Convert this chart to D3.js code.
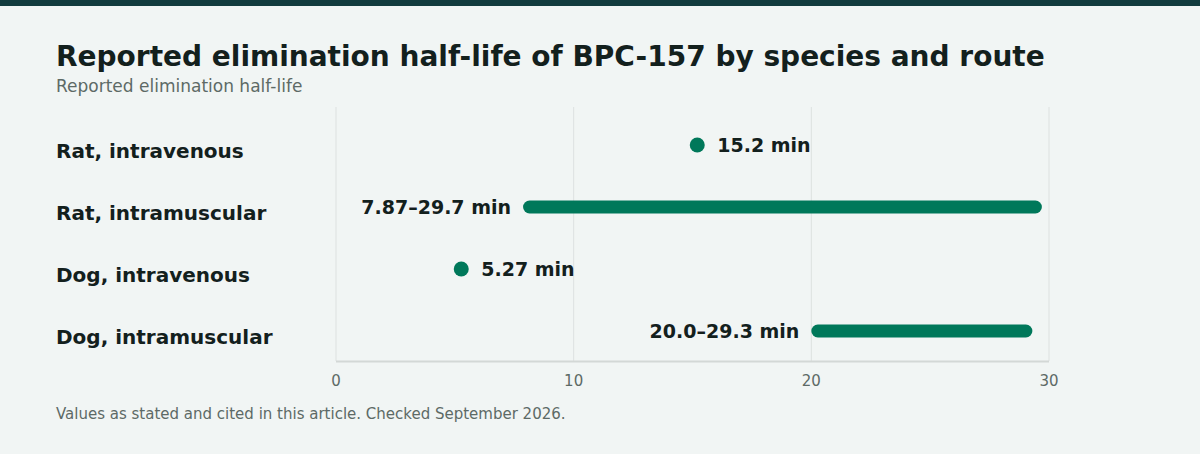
<!DOCTYPE html>
<html>
<head>
<meta charset="utf-8">
<script src="https://cdn.jsdelivr.net/npm/d3@7"></script>
<style>
  body { margin: 0; background: #f1f5f4; }
  svg { display: block; font-family: "DejaVu Sans", sans-serif; }
</style>
</head>
<body>
<svg id="chart" width="1200" height="454"></svg>
<script>
const categories = ['Rat, intravenous', 'Rat, intramuscular', 'Dog, intravenous', 'Dog, intramuscular']
const lowValues = [15.2, 7.87, 5.27, 20.0]
const highValues = [15.2, 29.7, 5.27, 29.3]
const valueLabels = ['15.2 min', '7.87–29.7 min', '5.27 min', '20.0–29.3 min']
const xTicks = [0, 10, 20, 30]

const svg = d3.select('#chart')
const green = '#00785a'

svg.append('rect').attr('width', 1200).attr('height', 454).attr('fill', '#f1f5f4')
svg.append('rect').attr('width', 1200).attr('height', 6).attr('fill', '#123c3e')

svg.append('text')
  .attr('x', 56).attr('y', 66)
  .attr('font-size', 28).attr('font-weight', 'bold').attr('fill', '#13201d')
  .text('Reported elimination half-life of BPC-157 by species and route')

svg.append('text')
  .attr('x', 56).attr('y', 92)
  .attr('font-size', 17).attr('fill', '#5d6a66')
  .text('Reported elimination half-life')

const x = d3.scaleLinear().domain([0, 30]).range([336, 1049])
const y = d3.scaleBand().domain(categories).range([114, 362])

// grid
svg.append('g').selectAll('line')
  .data(xTicks)
  .join('line')
  .attr('x1', d => x(d)).attr('x2', d => x(d))
  .attr('y1', 107).attr('y2', 361)
  .attr('stroke', '#dde1e0').attr('stroke-width', 1)

svg.append('line')
  .attr('x1', x(0)).attr('x2', x(30))
  .attr('y1', 361.5).attr('y2', 361.5)
  .attr('stroke', '#d3d8d6').attr('stroke-width', 2)

svg.append('g').selectAll('text')
  .data(xTicks)
  .join('text')
  .attr('x', d => x(d)).attr('y', 386)
  .attr('text-anchor', 'middle')
  .attr('font-size', 15).attr('fill', '#5d6a66')
  .text(d => d)

// row labels
svg.append('g').selectAll('text')
  .data(categories)
  .join('text')
  .attr('x', 56).attr('y', d => y(d) + y.bandwidth() / 2 + 13)
  .attr('font-size', 20).attr('font-weight', 'bold').attr('fill', '#13201d')
  .text(d => d)

const rows = categories.map((c, i) => ({ c, lo: lowValues[i], hi: highValues[i], label: valueLabels[i] }))
const cy = d => y(d.c) + y.bandwidth() / 2

const marks = svg.append('g')
marks.selectAll('line')
  .data(rows.filter(d => d.hi > d.lo))
  .join('line')
  .attr('x1', d => x(d.lo) + 6.5).attr('x2', d => x(d.hi) - 6.5)
  .attr('y1', cy).attr('y2', cy)
  .attr('stroke', green).attr('stroke-width', 13).attr('stroke-linecap', 'round')

marks.selectAll('circle')
  .data(rows.filter(d => d.hi === d.lo))
  .join('circle')
  .attr('cx', d => x(d.lo)).attr('cy', cy).attr('r', 7.5)
  .attr('fill', green)

svg.append('g').selectAll('text')
  .data(rows)
  .join('text')
  .attr('x', d => d.hi === d.lo ? x(d.lo) + 20 : x(d.lo) - 12)
  .attr('y', d => cy(d) + 7)
  .attr('text-anchor', d => d.hi === d.lo ? 'start' : 'end')
  .attr('font-size', 19).attr('font-weight', 'bold').attr('fill', '#13201d')
  .text(d => d.label)

svg.append('text')
  .attr('x', 56).attr('y', 419)
  .attr('font-size', 15).attr('fill', '#5d6a66')
  .text('Values as stated and cited in this article. Checked September 2026.')
</script>
</body>
</html>
